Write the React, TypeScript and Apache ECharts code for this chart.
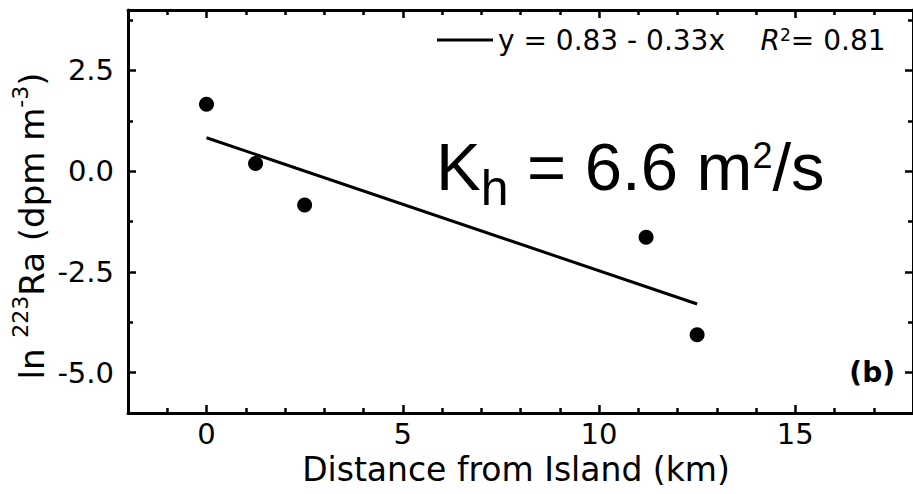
import React, { useEffect, useRef } from "react";
import * as echarts from "echarts";

// Station distances from the island and the log of 223Ra activity
const distanceKm = [0, 1.25, 2.5, 11.2, 12.5];
const lnRa223 = [1.66, 0.19, -0.84, -1.64, -4.06];

// Linear fit y = a + b x over the sampled range
const fitIntercept = 0.83;
const fitSlope = -0.33;
const fitRSquared = 0.81;
const fitRangeKm = [0, 12.5];

// Horizontal eddy diffusivity derived from the fit (m^2/s)
const eddyDiffusivity = 6.6;

const xRange = [-2, 18];
const yRange = [-6, 4];
const xMajorTicks = [0, 5, 10, 15];
const xMinorTicks = [-1, 1, 2, 3, 4, 6, 7, 8, 9, 11, 12, 13, 14, 16, 17];
const yMajorTicks = [-5, -2.5, 0, 2.5];
const yMinorTicks = [-3.75, -1.25, 1.25, 3.75];

const axisFont = "DejaVu Sans";
const ink = "#000";

const fitName = `y = ${fitIntercept.toFixed(2)} - ${Math.abs(fitSlope).toFixed(2)}x`;

function frameAxis(
  position: string,
  range: number[],
  ticks: number[],
  tickLength: number,
  withLine: boolean,
  extra: Record<string, unknown> = {}
) {
  return {
    type: "value",
    position,
    min: range[0],
    max: range[1],
    axisLine: { show: withLine, onZero: false, lineStyle: { color: ink, width: 3 } },
    axisTick: {
      show: true,
      inside: true,
      length: tickLength,
      customValues: ticks,
      lineStyle: { color: ink, width: 2.5 },
    },
    axisLabel: { show: false },
    splitLine: { show: false },
    ...extra,
  };
}

function buildOption() {
  const points = distanceKm.map((d, i) => [d, lnRa223[i]]);
  const fitLine = fitRangeKm.map((d) => [d, fitIntercept + fitSlope * d]);

  return {
    animation: false,
    backgroundColor: "#fff",
    grid: { left: 128, top: 10, right: -6, bottom: 81, containLabel: false },
    legend: {
      data: [fitName],
      left: 437,
      top: 26,
      padding: 0,
      icon: "rect",
      itemWidth: 56,
      itemHeight: 3,
      formatter: (name: string) =>
        `{m|${name}    }{i|R}{s|2}{m|= ${fitRSquared.toFixed(2)}}`,
      textStyle: {
        color: ink,
        rich: {
          m: { fontFamily: axisFont, fontSize: 28, color: ink, height: 30, verticalAlign: "top" },
          i: {
            fontFamily: axisFont,
            fontSize: 28,
            fontStyle: "italic",
            color: ink,
            height: 30,
            verticalAlign: "top",
          },
          s: { fontFamily: axisFont, fontSize: 17, color: ink, height: 19.6, verticalAlign: "top" },
        },
      },
    },
    xAxis: [
      frameAxis("bottom", xRange, xMajorTicks, 8, true, {
        axisLabel: {
          show: true,
          customValues: xMajorTicks,
          fontFamily: axisFont,
          fontSize: 29,
          lineHeight: 29,
          color: ink,
          margin: 6,
          formatter: (v: number) => String(v),
        },
        name: "Distance from Island (km)",
        nameLocation: "middle",
        nameGap: 37,
        nameTextStyle: {
          fontFamily: axisFont,
          fontSize: 33,
          lineHeight: 33,
          color: ink,
          padding: [0, 9, 0, 0],
        },
      }),
      frameAxis("bottom", xRange, xMinorTicks, 5, false),
      frameAxis("top", xRange, xMajorTicks, 8, true),
      frameAxis("top", xRange, xMinorTicks, 5, false),
    ],
    yAxis: [
      frameAxis("left", yRange, yMajorTicks, 8, true, {
        axisLabel: {
          show: true,
          customValues: yMajorTicks,
          fontFamily: axisFont,
          fontSize: 29,
          color: ink,
          margin: 14,
          formatter: (v: number) => v.toFixed(1),
        },
      }),
      frameAxis("left", yRange, yMinorTicks, 5, false),
      frameAxis("right", yRange, yMajorTicks, 8, true),
      frameAxis("right", yRange, yMinorTicks, 5, false),
    ],
    series: [
      {
        name: fitName,
        type: "line",
        data: fitLine,
        xAxisIndex: 0,
        yAxisIndex: 0,
        symbol: "none",
        showSymbol: false,
        color: ink,
        lineStyle: { color: ink, width: 3 },
      },
      {
        name: "223Ra",
        type: "scatter",
        data: points,
        xAxisIndex: 0,
        yAxisIndex: 0,
        symbol: "circle",
        symbolSize: 15,
        itemStyle: { color: ink, opacity: 1 },
      },
    ],
    graphic: [
      {
        // y-axis title, rotated to read upwards, with superscripts
        type: "text",
        x: 31.5,
        y: 226,
        rotation: Math.PI / 2,
        style: {
          text: "{m|ln }{s|223}{m|Ra (dpm m}{s|-3}{m|)}",
          align: "center",
          verticalAlign: "middle",
          fill: ink,
          rich: {
            m: { fontFamily: axisFont, fontSize: 34, fill: ink, height: 40, verticalAlign: "top" },
            s: { fontFamily: axisFont, fontSize: 22, fill: ink, height: 18.4, verticalAlign: "top" },
          },
        },
      },
      {
        type: "text",
        x: 436,
        y: 120,
        style: {
          text: `{k|K}{h|h}{k| = ${eddyDiffusivity.toFixed(1)} m}{p|2}{k|/s}`,
          align: "left",
          verticalAlign: "top",
          fill: ink,
          rich: {
            k: { fontFamily: "Liberation Sans", fontSize: 67, fill: ink, height: 93.6, verticalAlign: "top" },
            h: { fontFamily: "Liberation Sans", fontSize: 50, fill: ink, height: 136.8, verticalAlign: "top" },
            p: { fontFamily: "Liberation Sans", fontSize: 36, fill: ink, height: 71, verticalAlign: "top" },
          },
        },
      },
      {
        type: "text",
        x: 895,
        y: 372,
        style: {
          text: "(b)",
          fontFamily: axisFont,
          fontWeight: "bold",
          fontSize: 28,
          align: "right",
          verticalAlign: "middle",
          fill: ink,
        },
      },
    ],
  };
}

export default function App() {
  const ref = useRef<HTMLDivElement>(null);

  useEffect(() => {
    if (!ref.current) return;
    const chart = echarts.init(ref.current, null, { renderer: "svg" });
    chart.setOption(buildOption() as any);
    return () => chart.dispose();
  }, []);

  return (
    <div
      ref={ref}
      style={{ position: "fixed", left: 0, top: 0, width: 913, height: 494, background: "#fff" }}
    />
  );
}
